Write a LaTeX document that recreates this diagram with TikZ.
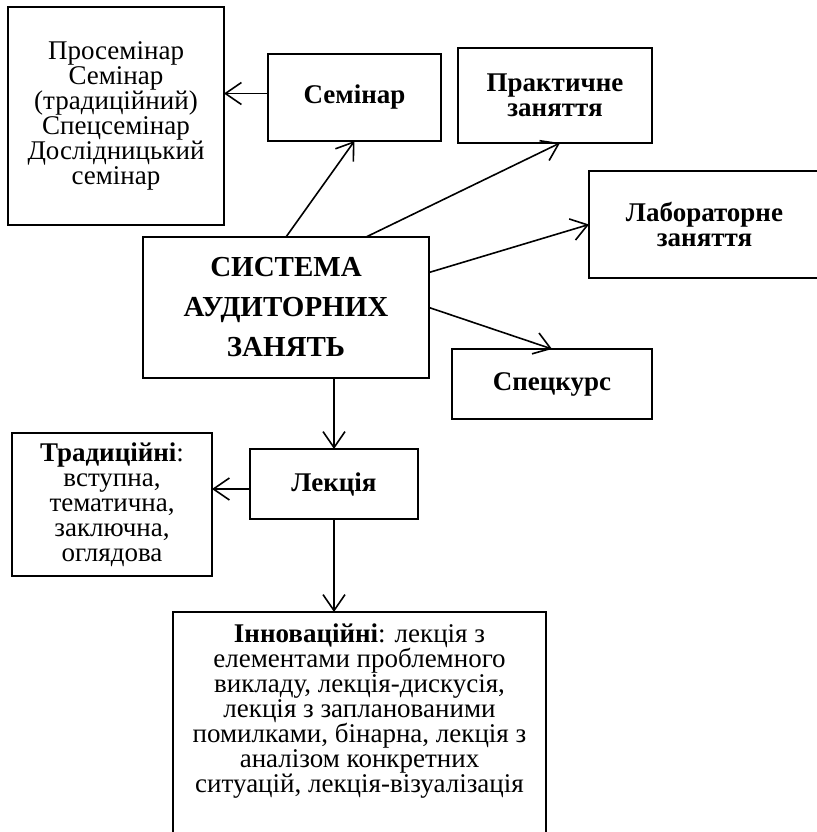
\documentclass[tikz,border=0pt]{standalone}
\usepackage{fontspec}
\setmainfont{Liberation Serif}
\usetikzlibrary{arrows.meta,calc}

\newcommand\tightlines{\lineskiplimit-50pt\relax}

\tikzset{
  box/.style={draw, line width=2.8pt, inner sep=0pt, outer sep=0pt, anchor=north west},
  txt/.style={align=center, font=\fontsize{27}{25}\selectfont\tightlines},
  btxt/.style={align=center, font=\fontsize{27}{25}\selectfont\bfseries\tightlines},
  arr/.style={line width=1.6pt, -{Straight Barb[length=16pt,width=22pt,line width=1.6pt]}},
}

\begin{document}
\begin{tikzpicture}[x=1pt, y=-1pt]
\useasboundingbox (0,0) rectangle (816,832);

% main box
\node[box, btxt, minimum width=286pt, minimum height=141pt,
      font=\fontsize{29}{40}\selectfont\bfseries\tightlines] (main) at (143,237)
  {СИСТЕМА\\АУДИТОРНИХ\\ЗАНЯТЬ};

% seminar branch
\node[box, btxt, minimum width=173pt, minimum height=87pt] (sem) at (268,54) {Семінар};
\node[box, txt, minimum width=216pt, minimum height=218pt] (list) at (8,7)
  {Просемінар\\Семінар\\(традиційний)\\Спецсемінар\\Дослідницький\\семінар};

% other class types
\node[box, btxt, minimum width=194pt, minimum height=95pt] (prak) at (458,48) {Практичне\\заняття};
\node[box, btxt, minimum width=231pt, minimum height=107pt] (lab) at (589,171) {Лабораторне\\заняття};
\node[box, btxt, minimum width=200pt, minimum height=70pt] (spec) at (452,349) {Спецкурс};

% lecture branch
\node[box, btxt, minimum width=168pt, minimum height=70pt] (lek) at (250,449) {Лекція};
\node[box, txt, minimum width=200pt, minimum height=143pt] (trad) at (12,433)
  {\textbf{Традиційні}:\\вступна,\\тематична,\\заключна,\\оглядова};
\node[box, minimum width=373pt, minimum height=238pt] (inn) at (173,612) {};
\node[txt, anchor=north, inner sep=0pt] (inntext) at ([yshift=-12pt]inn.north)
  {\textbf{Інноваційні}: лекція з\\елементами проблемного\\викладу, лекція-дискусія,\\лекція з запланованими\\помилками, бінарна, лекція з\\аналізом конкретних\\ситуацій, лекція-візуалізація};

% connector start points off the box centres
\coordinate (semL) at ([yshift=4pt]sem.west);
\coordinate (lekL) at ([yshift=-5pt]lek.west);

% connectors
\draw[arr] (main.north) -- (sem.south);
\draw[arr] ($(main.north west)!0.78!(main.north east)$) -- ([xshift=5pt]prak.south);
\draw[arr] ([yshift=35pt]main.east) -- (lab.west);
\draw[arr] (main.east) -- (spec.north);
\draw[arr] (semL) -- (list.east |- semL);
\draw[arr] (main.south -| lek.south) -- (lek.north);
\draw[arr] (lekL) -- (trad.east |- lekL);
\draw[arr] (lek.south) -- (inn.north -| lek.south);
\end{tikzpicture}
\end{document}
